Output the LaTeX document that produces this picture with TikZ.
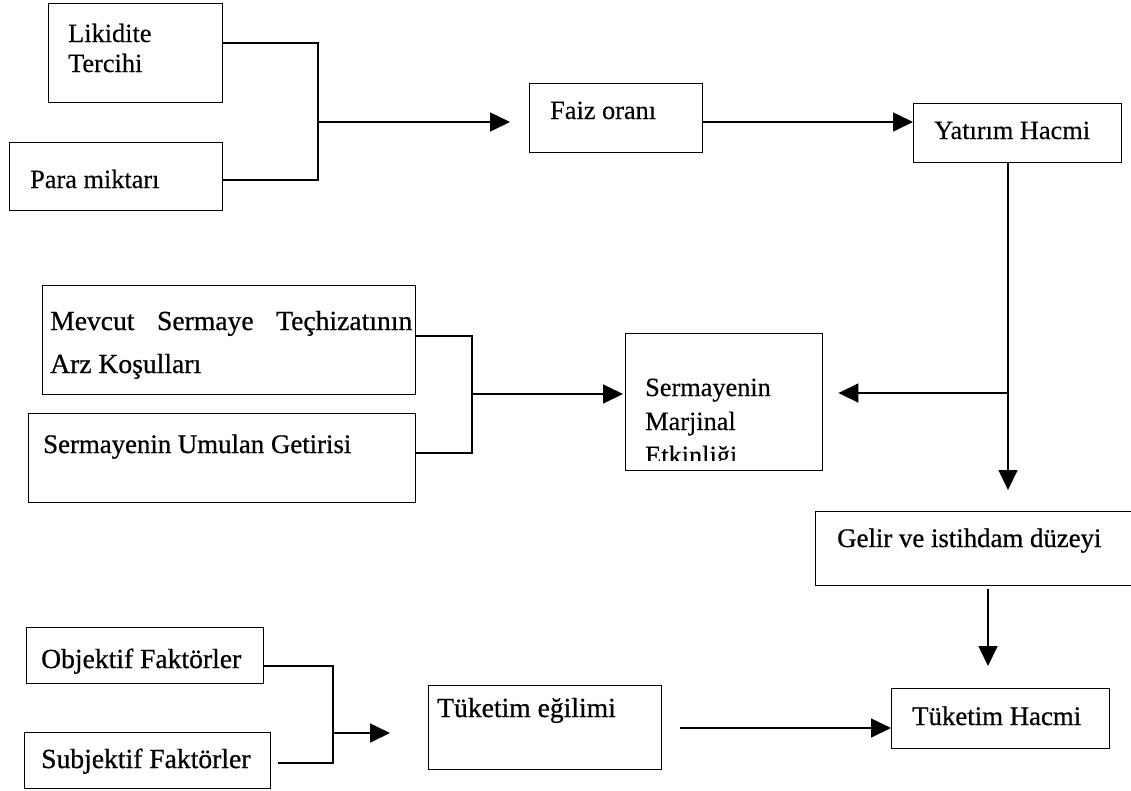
\documentclass[tikz,border=0pt]{standalone}
\usepackage{fontspec}
\setmainfont{Liberation Serif}
\newfontfamily\heavyfont{Liberation Serif}[FakeBold=0.7]
\newfontfamily\scanfont{Liberation Serif}[FakeBold=0.3]
\usetikzlibrary{arrows.meta}
\begin{document}
\begin{tikzpicture}[x=1pt,y=-1pt,
  box/.style={draw, line width=1.4pt, inner sep=0pt, anchor=north west},
  txt/.style={inner sep=0pt, anchor=base west, font=\scanfont\fontsize{26.3}{30}\selectfont},
  htxt/.style={inner sep=0pt, anchor=base west, font=\heavyfont\fontsize{26.8}{30}\selectfont},
  btxt/.style={inner sep=0pt, anchor=base west, font=\heavyfont\fontsize{27.6}{30}\selectfont},
  conn/.style={line width=1.6pt},
  arr/.style={line width=1.6pt, -{Triangle[length=20pt,width=19pt]}}]
\useasboundingbox (0,0) rectangle (1131,790);
\fill[white] (0,0) rectangle (1131,790);
\clip (0,0) rectangle (1131,790);

% boxes
\node[box, minimum width=174pt, minimum height=99pt] (lik) at (48,3) {};
\node[box, minimum width=213pt, minimum height=68pt] (para) at (9,142) {};
\node[box, minimum width=173pt, minimum height=69pt] (faiz) at (529,83) {};
\node[box, minimum width=208pt, minimum height=59pt] (yat) at (913,103) {};
\node[box, minimum width=373pt, minimum height=109pt] (mev) at (42,285) {};
\node[box, minimum width=387pt, minimum height=89pt] (umu) at (28,413) {};
\node[box, minimum width=197pt, minimum height=137pt] (mar) at (625,333) {};
\node[box, minimum width=330pt, minimum height=74pt] (gel) at (815,511) {};
\node[box, minimum width=237pt, minimum height=56pt] (obj) at (26,627) {};
\node[box, minimum width=246pt, minimum height=56pt] (sub) at (24,732) {};
\node[box, minimum width=233pt, minimum height=84pt] (tuk) at (428,685) {};
\node[box, minimum width=218pt, minimum height=60pt] (hac) at (891,688) {};

% texts
\node[txt] (likT1) at (68,42) {Likidite};
\node[txt] (likT2) at (68,72) {Tercihi};
\node[txt] (paraT) at (30,188) {Para miktarı};
\node[txt] (faizT) at (550,119) {Faiz oranı};
\node[txt] (yatT) at (934,139) {Yatırım Hacmi};
\node[btxt] (mevT1) at (50,330) {\hbox to 362pt{Mevcut\hfil Sermaye\hfil Teçhizatının}};
\node[btxt] (mevT2) at (50,373) {Arz Koşulları};
\node[htxt] (umuT) at (43,453) {Sermayenin Umulan Getirisi};
\node[txt] (marT1) at (645,396) {Sermayenin};
\node[txt] (marT2) at (645,430) {Marjinal};
\begin{scope}
  \clip (627,335) rectangle (820,460);
  \node[txt] (marT3) at (645,464) {Etkinliği};
\end{scope}
\node[htxt] (gelT) at (837,547) {Gelir ve istihdam düzeyi};
\node[btxt] (objT) at (41,668) {Objektif Faktörler};
\node[btxt] (subT) at (41,768) {Subjektif Faktörler};
\node[btxt] (tukT) at (437,717) {Tüketim eğilimi};
\node[htxt] (hacT) at (912,725) {Tüketim Hacmi};

% connectors: top group
\coordinate (ja) at (318,43);
\coordinate (jb) at (318,180);
\coordinate (jc) at (318,122);
\draw[conn] (lik.east |- ja) -- (ja) -- (jb) -- (para.east |- jb);
\draw[arr, shorten >=19pt] (jc) -- (faiz.west |- jc);
\draw[arr] (faiz.east |- jc) -- (yat.west |- jc);

% investment volume down to income, branch to MEC
\coordinate (jd) at (1008,393);
\draw[arr, shorten >=21pt] (yat.south -| jd) -- (gel.north -| jd);
\draw[arr, shorten >=15pt] (jd) -- (mar.east |- jd);

% middle group
\coordinate (je) at (472,336);
\coordinate (jf) at (472,453);
\coordinate (jg) at (472,394);
\draw[conn] (mev.east |- je) -- (je) -- (jf) -- (umu.east |- jf);
\draw[arr, shorten >=2pt] (jg) -- (mar.west |- jg);

% income to consumption volume
\coordinate (jh) at (988,600);
\draw[arr, shorten <=3pt, shorten >=22pt] (gel.south -| jh) -- (hac.north -| jh);

% bottom group
\coordinate (ji) at (333,666);
\coordinate (jj) at (333,763);
\coordinate (jk) at (333,733);
\draw[conn, shorten >=7pt] (obj.east |- ji) -- (ji) -- (jj) -- (sub.east |- jj);
\draw[arr, shorten >=38pt] (jk) -- (tuk.west |- jk);
\coordinate (jl) at (700,728);
\draw[arr, shorten <=18pt] (tuk.east |- jl) -- (hac.west |- jl);
\end{tikzpicture}
\end{document}
